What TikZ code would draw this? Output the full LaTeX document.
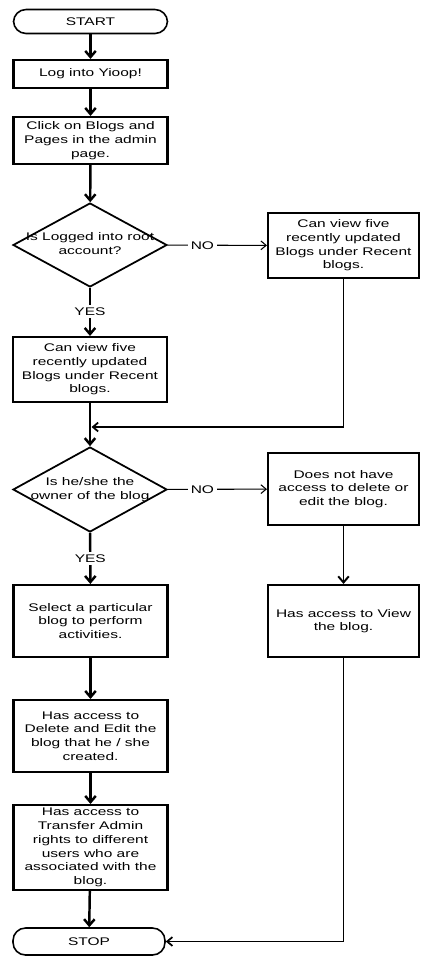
\documentclass[tikz,border=0pt]{standalone}
\usepackage{fontspec}
\setmainfont{Liberation Sans}[FakeStretch=1.4]
\usetikzlibrary{shapes.geometric,arrows.meta}

\newcommand{\dtext}[1]{\makebox[0pt]{\begin{tabular}{@{}c@{}}#1\end{tabular}}}

\begin{document}
\begin{tikzpicture}[x=0.02cm, y=-0.02cm,
	every node/.style={font=\fontsize{6.3}{7.8}\selectfont, align=center, inner sep=1pt},
	box/.style={rectangle, draw=black, line width=1.2pt, minimum width=3.08cm},
	rbox/.style={box, minimum width=3.02cm},
	term/.style={rectangle, rounded corners=0.25cm, draw=black, line width=0.9pt, minimum width=3.08cm, minimum height=0.48cm},
	dec/.style={diamond, draw=black, line width=1pt, minimum width=3.08cm, minimum height=1.68cm, inner sep=0pt},
	flow/.style={draw=black, line width=1.4pt, -{Straight Barb[length=3.5pt,width=6pt]}},
	side/.style={draw=black, line width=0.6pt, -{Straight Barb[length=3pt,width=5pt]}},
	back/.style={draw=black, line width=1pt, -{Straight Barb[length=3pt,width=5pt]}},
	lbl/.style={fill=white, inner sep=1.5pt}]
	\useasboundingbox (0,0) rectangle (420,957);

	\node[term] (start) at (90.5,21.5){START};
	\node[box, minimum height=0.56cm] (login) at (90.5,74){Log into Yioop!};
	\node[box, minimum height=0.94cm] (click) at (90.5,140.5){Click on Blogs and\\Pages in the admin\\page.};
	\node[dec] (root) at (90,245){\dtext{Is Logged into root\\account?}};
	\node[rbox, minimum height=1.3cm] (rview) at (343.5,245.5){Can view five\\recently updated\\Blogs under Recent\\blogs.};
	\node[box, minimum height=1.3cm] (view) at (90,369.5){Can view five\\recently updated\\Blogs under Recent\\blogs.};
	\coordinate (merge) at (91.5,427);
	\node[dec, minimum height=1.7cm] (owner) at (90,489.5){\dtext{Is he/she the\\owner of the blog}};
	\node[rbox, minimum height=1.44cm] (nodel) at (343.5,489){Does not have\\access to delete or\\edit the blog.};
	\node[box, minimum height=1.44cm] (select) at (90.5,621){Select a particular\\blog to perform\\activities.};
	\node[rbox, minimum height=1.44cm] (viewonly) at (343.5,621){Has access to View\\the blog.};
	\node[box, minimum height=1.44cm] (edit) at (90.5,736){Has access to\\Delete and Edit the\\blog that he / she\\created.};
	\node[box, minimum height=1.7cm] (transfer) at (90.5,847.5){Has access to\\Transfer Admin\\rights to different\\users who are\\associated with the\\blog.};
	\node[term, minimum width=3.04cm, minimum height=0.54cm] (stop) at (89,941.5){STOP};

	\path[flow] (start) edge (login);
	\path[flow] (login) edge (click);
	\path[flow] (click) edge (root);
	\path[flow] (root) edge node[lbl]{YES} (view);
	\path[side] (root) edge node[lbl, pos=0.35]{NO} (rview);
	\path[flow] (view) edge (owner);
	\draw[back] (rview.south) |- (merge);
	\path[flow] (owner) edge node[lbl]{YES} (select);
	\path[side] (owner) edge node[lbl, pos=0.35]{NO} (nodel);
	\path[flow, line width=1.1pt] (nodel) edge (viewonly);
	\path[flow] (select) edge (edit);
	\path[flow] (edit) edge (transfer);
	\path[flow] (transfer) edge (stop);
	\draw[back] (viewonly.south) |- (stop.east);
\end{tikzpicture}
\end{document}
